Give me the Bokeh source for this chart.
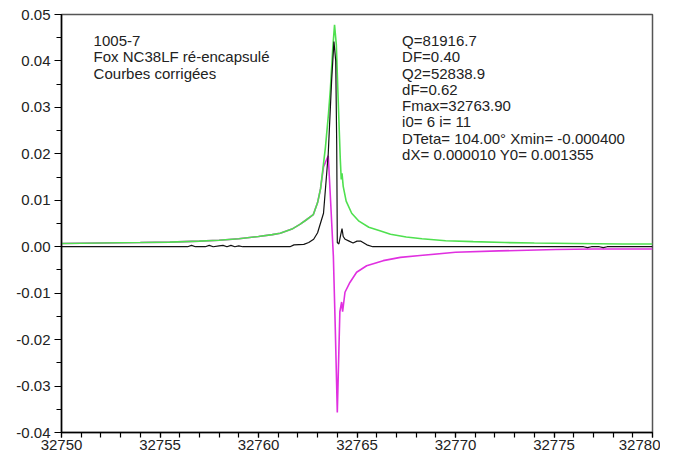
from bokeh.plotting import figure
from bokeh.models import Range1d, SingleIntervalTicker, PrintfTickFormatter, Label
from bokeh.embed import file_html
from bokeh.resources import INLINE

# --- data ------------------------------------------------------------------
# amplitude (green)
amp_x = [32750, 32752, 32754, 32755.5, 32757, 32758, 32759, 32760, 32760.7,
         32761.1, 32761.7, 32762.1, 32762.4, 32762.78, 32763.0, 32763.15,
         32763.29, 32763.4, 32763.55, 32763.65, 32763.77, 32763.86, 32763.95,
         32764.05, 32764.15, 32764.2, 32764.24, 32764.3, 32764.45, 32764.73,
         32765.1, 32765.6, 32766.2, 32766.7, 32767.5, 32768.3, 32769.5,
         32770.9, 32772.5, 32774, 32776, 32778.5, 32780]
amp_y = [0.0007, 0.0008, 0.0009, 0.0010, 0.0012, 0.0014, 0.0017, 0.0022, 0.0026,
         0.0029, 0.0038, 0.0048, 0.0057, 0.0069, 0.0095, 0.0125,
         0.0175, 0.0215, 0.0285, 0.034, 0.0427, 0.0478, 0.0435,
         0.031, 0.019, 0.0145, 0.0158, 0.013, 0.0098, 0.0072,
         0.0055, 0.0042, 0.0034, 0.0027, 0.0021, 0.0017, 0.0013,
         0.0011, 0.0009, 0.0008, 0.0007, 0.0006, 0.0006]

# real part (black)
re_x = [32750, 32756.4, 32756.6, 32756.8, 32757.3, 32757.5, 32757.7, 32758.0,
        32758.2, 32758.4, 32758.6, 32758.8, 32759.0, 32759.2, 32761.6, 32761.8,
        32762.3, 32762.55, 32762.8, 32763.0, 32763.3, 32763.54, 32763.71,
        32763.83, 32763.92, 32763.97, 32764.0, 32764.08, 32764.17, 32764.24,
        32764.3, 32764.4, 32764.6, 32764.8, 32765.0, 32765.2, 32765.5, 32765.8,
        32776.5, 32776.7, 32776.9, 32777.3, 32777.5, 32777.7, 32780]
re_y = [0.0, 0.0, 0.0003, 0.0, 0.0, 0.0003, 0.0, 0.0002,
        0.0003, 0.0, 0.0003, 0.0, 0.0002, 0.0, 0.0, 0.0004,
        0.0005, 0.0009, 0.0016, 0.003, 0.0072, 0.02, 0.0356,
        0.0442, 0.040, 0.022, 0.0009, 0.0006, 0.0025, 0.0039,
        0.0022, 0.0016, 0.0012, 0.0008, 0.0012, 0.0012, 0.0004, 0.0,
        0.0, -0.0002, 0.0, 0.0, -0.0002, 0.0, 0.0]

# imaginary part (magenta) - follows the amplitude on the left side
im_x = [32750, 32752, 32754, 32755.5, 32757, 32758, 32759, 32760, 32760.7,
        32761.1, 32761.7, 32762.1, 32762.4, 32762.78, 32763.0, 32763.15,
        32763.3, 32763.54, 32763.67, 32763.8, 32763.9, 32764.0, 32764.13,
        32764.22, 32764.27, 32764.39, 32764.64, 32764.98, 32765.49, 32766.33,
        32767.2, 32768.2, 32770, 32772.2, 32775.1, 32777, 32780]
im_y = [0.0007, 0.0008, 0.0009, 0.0010, 0.0012, 0.0014, 0.0017, 0.0022, 0.0026,
        0.0029, 0.0038, 0.0048, 0.0057, 0.0069, 0.0095, 0.0125,
        0.0172, 0.0196, 0.009, -0.002, -0.018, -0.0357, -0.014,
        -0.0119, -0.014, -0.0098, -0.0077, -0.0055, -0.0041, -0.003,
        -0.0023, -0.0019, -0.0012, -0.0009, -0.0006, -0.0005, -0.0005]

header_lines = ["1005-7", "Fox NC38LF ré-encapsulé", "Courbes corrigées"]
result_lines = ["Q=81916.7", "DF=0.40", "Q2=52838.9", "dF=0.62", "Fmax=32763.90",
                "i0= 6 i= 11", "DTeta= 104.00° Xmin= -0.000400",
                "dX= 0.000010 Y0= 0.001355"]

FONT = "Liberation Sans"

p = figure(
    width=660, height=456,
    x_range=Range1d(32750, 32780), y_range=Range1d(-0.04, 0.05),
    output_backend="svg", toolbar_location=None,
    min_border_left=61, min_border_right=8, min_border_top=14, min_border_bottom=24,
    background_fill_color="white", border_fill_color="white",
)
p.outline_line_color = "#555555"
p.outline_line_width = 1.5
p.grid.grid_line_color = None

p.line(im_x, im_y, line_color="#e030e0", line_width=1.6)
p.line(amp_x, amp_y, line_color="#4fe04f", line_width=1.6)
p.line(re_x, re_y, line_color="#111111", line_width=1.2)

p.xaxis.ticker = SingleIntervalTicker(interval=5, num_minor_ticks=5)
p.yaxis.ticker = SingleIntervalTicker(interval=0.01, num_minor_ticks=2)
p.yaxis.formatter = PrintfTickFormatter(format="%.2f")
p.xaxis.formatter = PrintfTickFormatter(format="%d")

for ax in (p.xaxis, p.yaxis):
    ax.axis_line_color = "black"
    ax.axis_line_width = 1.5
    ax.major_tick_line_color = "black"
    ax.minor_tick_line_color = "black"
    ax.major_tick_line_width = 1.2
    ax.minor_tick_line_width = 1.2
    ax.major_tick_in = 0
    ax.minor_tick_in = 0
    ax.major_label_text_font = FONT
    ax.major_label_text_font_size = "15px"
    ax.major_label_text_color = "#222222"

p.yaxis.major_tick_out = 7
p.yaxis.minor_tick_out = 5
p.yaxis.major_label_standoff = 4
p.xaxis.major_tick_out = 5
p.xaxis.minor_tick_out = 5
p.xaxis.major_label_standoff = 2

# annotation blocks (positions in data units)
y0, step = 0.0444, 0.0035
for i, t in enumerate(header_lines):
    p.add_layout(Label(x=32751.63, y=y0 - i * step, text=t, text_font=FONT,
                       text_font_size="15px", text_color="#222222",
                       text_baseline="middle"))
for i, t in enumerate(result_lines):
    p.add_layout(Label(x=32767.29, y=y0 - i * step, text=t, text_font=FONT,
                       text_font_size="15px", text_color="#222222",
                       text_baseline="middle"))

open("out.html", "w").write(file_html(p, INLINE))
